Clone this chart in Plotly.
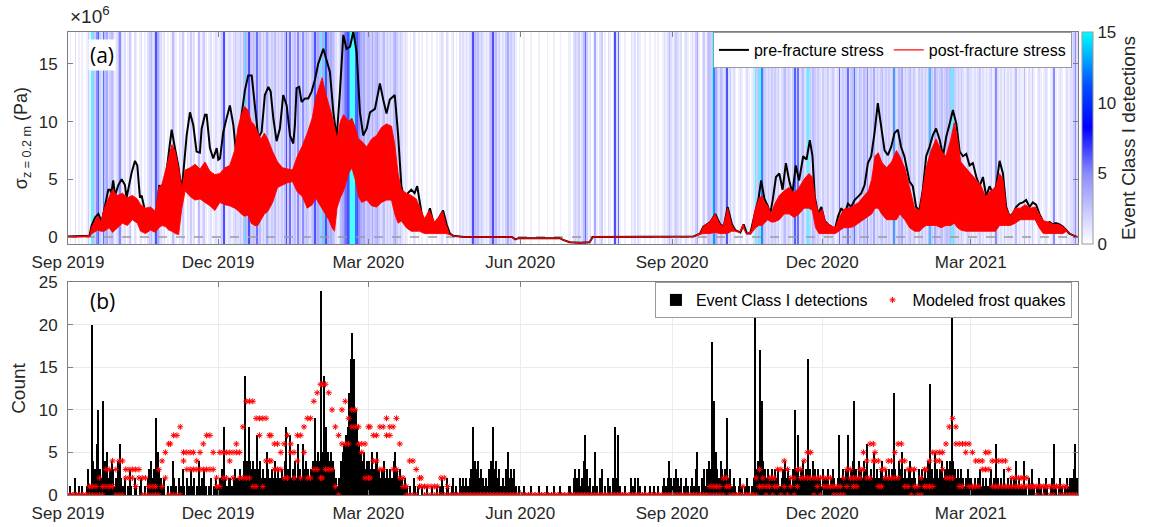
import plotly.graph_objects as go
import pandas as pd

# ---------------- data ----------------
month_starts = ["2019-09-01", "2019-10-01", "2019-11-01", "2019-12-01", "2020-01-01",
                "2020-02-01", "2020-03-01", "2020-04-01", "2020-05-01", "2020-06-01",
                "2020-07-01", "2020-08-01", "2020-09-01", "2020-10-01", "2020-11-01",
                "2020-12-01", "2021-01-01", "2021-02-01", "2021-03-01", "2021-04-01",
                "2021-05-01"]

# daily Event Class I detections, one list per month
det_2019_09 = [0,1,0,0,2,0,1,0,1,0, 0,1,3,1,20,4,3,6,10,3, 2,11,4,5,2,3,4,3,1,2]
det_2019_10 = [4,6,2,1,2,0,1,3,1,0, 2,1,0,1,2,0,1,0,2,3, 4,2,3,9,5,3,2,1,2,0, 1]
det_2019_11 = [0,1,4,2,1,0,2,1,3,1, 0,2,1,3,1,2,0,1,4,1, 2,3,1,0,1,2,0,1,2,1]
det_2019_12 = [1,2,3,8,2,1,2,2,1,2, 3,2,2,3,2,4,14,4,8,4, 3,4,3,7,3,4,2,3,2,5, 3]
det_2020_01 = [2,3,2,4,2,3,2,3,2,4, 8,3,7,2,3,4,2,6,3,2, 6,3,4,3,2,3,4,9,4,5, 4]
det_2020_02 = [24,5,14,8,5,4,5,4,3,2, 1,2,4,5,6,7,8,12,16,19, 16,10,8,6,5,4,5,3,4]
det_2020_03 = [4,3,5,3,4,5,3,2,3,4, 2,3,2,3,2,4,5,3,2,3, 2,1,2,1,0,1,0,2,1,0, 1]
det_2020_04 = [0,1,0,0,1,0,0,1,0,0, 1,0,1,2,1,0,2,1,0,1, 2,0,1,0,2,1,2,1,2,1]
det_2020_05 = [2,3,8,4,3,4,2,3,2,1, 2,1,3,4,8,3,4,2,3,1, 2,1,3,5,2,3,2,3,1,0, 1]
det_2020_06 = [0,0,1,0,0,0,1,0,0,0, 0,1,0,0,0,0,1,0,0,0, 1,0,0,0,1,0,0,0,0,1]
det_2020_07 = [1,0,2,3,2,3,1,2,4,7, 3,1,2,0,1,5,1,0,2,3, 0,1,0,2,1,0,2,8,2,7, 1]
det_2020_08 = [0,0,1,0,0,0,2,1,2,0, 2,1,0,0,1,0,0,1,0,0, 1,0,1,0,0,1,2,1,2,4, 2]
det_2020_09 = [1,2,3,2,1,2,0,1,2,1, 0,1,2,1,3,5,1,0,2,3, 1,3,4,3,18,11,5,3,2,4]
det_2020_10 = [3,2,3,9,2,3,1,2,1,0, 1,2,1,0,1,2,1,0,1,2, 21,3,4,17,11,4,3,2,3,2, 3]
det_2020_11 = [2,3,2,3,1,2,3,4,2,3, 2,1,3,10,3,7,2,3,4,2, 3,16,3,2,4,3,2,3,2,1]
det_2020_12 = [3,2,2,3,1,2,3,2,1,2, 7,2,3,2,3,7,2,3,4,11, 3,2,4,3,2,4,3,6,2,3, 2]
det_2021_01 = [5,2,3,2,3,4,2,3,2,3, 2,3,12,3,2,4,3,5,2,3, 2,3,4,2,3,2,1,3,2,3, 2]
det_2021_02 = [3,2,4,13,3,2,5,3,2,3, 4,2,3,4,3,4,21,4,3,2, 3,2,3,2,1,2,3,2]
det_2021_03 = [2,1,2,1,2,3,1,2,1,2, 1,2,3,1,2,6,2,1,2,1, 3,1,2,1,2,1,2,4,1,2, 1]
det_2021_04 = [1,4,1,0,2,1,3,1,0,1, 2,1,0,1,2,1,0,1,2,6, 1,0,1,2,1,0,1,2,1,2]
det_2021_05 = [2,3,6,2]

# modeled frost quakes, 2-day bins per month: upper and lower levels
mod_hi_2019_09 = [0,0,0,0,0,0,1,1,1,2,1,3,3,4,3]
mod_lo_2019_09 = [0,0,0,0,0,0,0,0,0,0,0,1,1,1,0]
mod_hi_2019_10 = [4,4,3,3,3,3,3,2,2,1,1,1,3,4,5,6]
mod_lo_2019_10 = [0,0,2,2,2,1,2,0,0,0,0,0,0,1,2,0]
mod_hi_2019_11 = [6,7,7,8,5,5,5,5,4,5,6,7,7,5,2]
mod_lo_2019_11 = [0,0,0,0,4,3,3,3,3,3,3,3,3,3,1]
mod_hi_2019_12 = [5,5,5,5,5,6,5,8,11,11,11,9,9,9,9,7]
mod_lo_2019_12 = [1,2,2,4,2,5,2,2,2,2,1,1,7,1,4,4]
mod_hi_2020_01 = [7,6,6,5,6,7,6,5,7,7,8,9,9,11,12,13]
mod_lo_2020_01 = [4,3,3,3,2,2,5,2,4,2,5,2,2,3,3,2]
mod_hi_2020_02 = [13,13,12,10,8,7,10,11,9,10,10,8,6,6,8]
mod_lo_2020_02 = [2,3,3,3,1,0,6,6,6,8,8,6,5,2,2]
mod_hi_2020_03 = [8,7,7,8,8,9,8,8,9,6,2,1,4,4,3,2]
mod_lo_2020_03 = [2,4,4,3,3,7,7,3,3,2,1,0,0,0,0,1]
mod_hi_2020_04 = [2,1,1,1,1,1,2,2,1,0,0,0,0,0,0]
mod_lo_2020_04 = [1,0,0,0,0,0,0,0,0,0,0,0,0,0,0]
mod_hi_2020_05 = [0,0,0,0,0,0,0,0,0,0,0,0,0,0,0,0]
mod_lo_2020_05 = [0,0,0,0,0,0,0,0,0,0,0,0,0,0,0,0]
mod_hi_2020_06 = [0,0,0,0,0,0,0,0,0,0,0,0,0,0,0]
mod_lo_2020_06 = [0,0,0,0,0,0,0,0,0,0,0,0,0,0,0]
mod_hi_2020_07 = [0,0,0,0,0,0,0,0,0,0,0,0,0,0,0,0]
mod_lo_2020_07 = [0,0,0,0,0,0,0,0,0,0,0,0,0,0,0,0]
mod_hi_2020_08 = [0,0,0,0,0,0,0,0,0,0,0,0,0,0,0,0]
mod_lo_2020_08 = [0,0,0,0,0,0,0,0,0,0,0,0,0,0,0,0]
mod_hi_2020_09 = [0,0,0,0,0,0,0,0,0,0,0,1,1,1,1]
mod_lo_2020_09 = [0,0,0,0,0,0,0,0,0,0,0,0,0,0,0]
mod_hi_2020_10 = [2,2,1,0,0,0,1,0,0,0,2,3,2,1,2,2]
mod_lo_2020_10 = [0,1,0,0,0,0,0,0,0,0,0,1,1,0,1,0]
mod_hi_2020_11 = [2,3,3,4,3,2,2,3,3,4,5,5,2,2,2]
mod_lo_2020_11 = [1,1,0,1,0,1,0,1,2,2,2,2,0,1,0]
mod_hi_2020_12 = [2,2,2,1,1,1,2,3,3,2,2,3,5,4,6,6]
mod_lo_2020_12 = [1,1,1,0,0,0,0,1,2,1,1,2,3,2,2,4]
mod_hi_2021_01 = [5,4,3,3,4,4,5,6,6,4,3,3,3,1,2,3]
mod_lo_2021_01 = [4,1,1,2,2,2,2,2,4,1,1,0,1,0,0,1]
mod_hi_2021_02 = [3,4,5,5,5,5,6,8,9,8,6,6,6,6]
mod_lo_2021_02 = [1,1,1,4,4,3,2,2,2,6,1,1,5,1]
mod_hi_2021_03 = [5,4,4,4,5,5,4,4,4,4,4,3,2,2,2,2]
mod_lo_2021_03 = [1,1,1,3,3,3,1,1,1,1,1,1,1,1,1,1]
mod_hi_2021_04 = [2,2,1,1,1,1,1,1,1,1,1,1,1,1,0]
mod_lo_2021_04 = [1,1,1,1,0,1,0,1,0,0,1,0,0,0,0]
mod_hi_2021_05 = [0,0]
mod_lo_2021_05 = [0,0]

# pre-fracture stress (x 1e6 Pa): (day since 2019-09-01, value)
pre_knots = [
    (0,0.05),(13,0.1),(14.3,1.0),(16.5,1.7),(18.4,2.0),(20.4,1.3),(22.4,2.7),(24.4,4.1),(25.4,4.1),
    (26.3,3.8),(27.4,4.9),(28.5,3.6),(30.5,4.5),(32.5,5.0),(34.5,4.5),(35.5,3.4),(38.6,5.6),(40.6,6.6),
    (42,6.2),(43.6,3.4),(44.6,3.6),(46.6,2.3),(48.7,2.2),(50.7,1.8),(52.7,1.8),(53.7,2.2),(55.3,4.5),
    (56.7,3.6),(58.7,4.5),(60.8,6.8),(62.8,9.3),(64.8,7.7),(66.8,6.2),(68.8,4.1),(69.8,5.4),(71.9,8.8),
    (73.9,10.8),(75.9,9.7),(77.9,7.4),(79.9,7.3),(81,9.4),(83,10.6),(84,10.6),(86,7.7),(88,6.8),
    (90.1,7.7),(91.1,6.7),(92.1,6.8),(94.1,9.1),(96.1,10.3),(98.1,11.4),(100.2,9.7),(102.2,6.8),
    (103.2,6.2),(105.2,10.6),(107.2,12.7),(109.2,14.0),(111.3,14.0),(113.3,11.4),(115.3,8.6),
    (117.3,9.1),(119.3,12.3),(121.4,13.0),(122.8,12.6),(124.4,10.3),(126.4,8.3),(128.4,9.4),
    (130.4,12.3),(132.5,11.4),(134.5,8.8),(136.5,8.1),(137.5,9.7),(138.5,12.9),(140.1,13.0),
    (141.5,11.7),(143.6,12.0),(145.6,12.0),(147.6,12.6),(149.6,13.6),(151.6,15.0),(154.7,16.3),
    (156.7,15.2),(158.7,14.3),(160.8,10.8),(162.8,8.6),(164.8,12.6),(166.8,17.5),(168.8,16.3),
    (170.9,16.5),(172.9,17.8),(174.9,16.0),(176.9,10.8),(178.9,8.8),(181,9.4),(183,10.8),(186,11.1),
    (189,13.3),(191,11.9),(193,10.7),(195,11.9),(197,12.2),(198,12.3),(200,8.9),(202,4.4),(204,3.2),
    (206,3.8),(208,4.1),(210,3.8),(211.6,4.4),(213,3.2),(215,1.4),(217,1.3),(219.3,2.5),(221.3,1.3),
    (223.3,1.0),(225.3,1.8),(227.3,2.3),(229.4,1.1),(231.4,0.3),(233.4,0.1),(240,0.0),(269,0.0),
    (271,-0.2),(273,-0.1),(298,-0.1),(300,-0.25),(304,-0.45),(310,-0.5),(316,-0.45),(318,0.0),
    (379,0.05),(383,0.3),(385,0.9),(389.2,1.3),(392.2,2.0),(395.2,1.1),(397.3,0.9),(399.7,2.6),
    (402.3,1.1),(404.3,0.6),(407.4,0.4),(409.4,1.1),(411.4,0.3),(413.4,0.3),(416.4,2.3),(418.5,3.4),
    (420,4.9),(422,3.3),(424,2.7),(425.5,2.0),(427,3.2),(429,5.2),(431,5.5),(433,4.1),(435,6.4),
    (437,4.9),(439,3.8),(441,6.2),(443,4.9),(445.5,7.0),(447.5,6.7),(449.5,8.4),(451.1,7.0),
    (452.5,3.5),(454.5,2.0),(456.5,2.6),(458.5,1.4),(460.5,1.1),(462.5,0.9),(464.6,0.6),(466.6,1.8),
    (468.6,2.5),(470.6,2.0),(472.6,2.9),(474.6,2.6),(476.6,3.2),(478.7,3.5),(480.7,3.8),(482.7,4.5),
    (484.7,6.4),(486.7,7.0),(488.7,9.0),(490.7,11.6),(492.8,9.5),(494.8,7.5),(496.8,7.1),(498.8,7.8),
    (500.8,9.0),(502.8,9.3),(504.8,7.8),(506.8,7.0),(509.9,4.8),(511.9,4.4),(513.9,2.6),(515.9,2.3),
    (518,4.1),(520,7.0),(522,7.8),(524,8.8),(526,9.4),(528.2,8.4),(530.2,7.0),(532.2,8.7),(534.2,9.8),
    (536.2,11.0),(538.3,9.8),(540.3,7.4),(542.3,7.0),(544.3,7.2),(546.3,6.2),(548.3,6.4),(550.4,5.2),
    (552.4,4.4),(554.4,5.2),(556.4,3.5),(558.4,4.4),(560.4,3.8),(562.4,4.4),(564.5,6.6),(566.5,5.5),
    (568.5,2.6),(570.5,1.8),(572.5,2.0),(574.5,2.6),(576.6,2.9),(578.6,3.0),(580.6,3.2),(582.6,2.6),
    (584.6,3.0),(586.6,2.8),(588.6,2.0),(590.7,1.4),(592.7,1.1),(594.7,1.3),(596.7,1.1),(598.7,1.2),
    (600.8,1.1),(602.8,0.9),(604.8,0.6),(606.8,0.3),(609.8,0.1),(611.5,0.0)]

# post-fracture stress envelope (x 1e6 Pa): (day, low, high)
post_knots = [
    (0,0.0,0.05),(13,0.0,0.1),(14.5,0.3,0.9),(18,0.6,1.8),(20,0.5,1.3),(22,0.5,2.5),(25,0.8,3.5),
    (27,0.4,4.1),(30,0.8,3.6),(33,1.2,3.8),(36,1.0,3.4),(39,1.5,3.6),(42,1.2,3.3),(44,0.5,2.8),
    (47,0.3,2.5),(50,0.6,2.6),(53,0.4,2.2),(55,0.8,4.3),(57,1.0,4.6),(59,0.9,5.8),(61,0.6,7.0),
    (63,0.5,8.0),(65,0.3,7.4),(67,0.2,6.0),(69,2.5,4.2),(71,4.0,5.8),(74,3.5,6.0),(77,3.2,6.3),
    (80,3.3,5.9),(83,3.0,6.5),(86,2.7,5.7),(89,2.3,5.4),(92,3.0,5.5),(95,2.8,6.0),(98,2.7,6.2),
    (101,2.5,7.5),(103,2.3,9.5),(105,2.0,10.6),(107,1.8,11.3),(109,1.9,11.0),(111,1.2,10.0),
    (113,1.0,9.7),(115,1.0,9.0),(117,1.5,8.5),(119,2.0,9.0),(121,2.2,8.5),(124,3.0,7.4),(127,4.3,6.5),
    (130,4.5,6.0),(133,4.7,5.9),(136,4.8,5.8),(139,3.9,7.0),(142,3.5,7.9),(145,2.5,9.0),(148,2.8,10.3),
    (150,3.4,12.0),(152,3.0,13.0),(154,2.5,13.8),(156,2.0,12.5),(158,1.5,11.5),(160,0.8,10.5),
    (161.5,0.5,9.5),(163,2.5,8.5),(165,3.4,10.0),(167,4.0,10.6),(170,5.5,10.0),(172,6.0,10.3),
    (174,5.0,9.5),(176,3.5,8.5),(178,3.0,8.3),(181,3.2,7.8),(184,2.7,8.5),(187,2.6,8.8),(190,3.0,9.5),
    (193,3.2,9.8),(196,3.2,9.6),(198,2.0,8.0),(200,1.2,5.5),(202,1.4,4.1),(205,0.8,3.8),(208,0.5,3.6),
    (211,0.5,3.3),(213,0.5,2.6),(216,0.3,1.6),(219,0.3,2.3),(222,0.3,1.3),(225,0.3,1.8),(227,0.3,2.2),
    (229,0.3,1.1),(231,0.2,0.3),(233.4,0.1,0.1),(240,0.0,0.0),(269,0.0,0.0),(271,-0.2,-0.2),
    (273,-0.1,-0.1),(298,-0.1,-0.1),(300,-0.25,-0.25),(304,-0.45,-0.45),(310,-0.5,-0.5),
    (316,-0.45,-0.45),(318,0.0,0.0),(379,0.05,0.05),(383,0.2,0.3),(385,0.3,0.9),(389,0.3,1.3),
    (392,0.4,2.0),(395,0.3,1.1),(397,0.3,0.9),(399.7,0.3,2.5),(402,0.5,1.1),(404,0.5,0.6),
    (407,0.4,0.4),(409,0.8,1.1),(411,0.3,0.3),(414,0.3,0.5),(416,0.7,2.2),(418.5,1.0,3.3),
    (420.5,1.0,3.6),(422,1.2,3.0),(424,1.5,2.7),(426,1.3,2.0),(428,1.3,2.8),(431,1.5,3.6),
    (434,2.0,4.0),(437,2.0,4.3),(440,1.7,3.8),(443,2.0,4.3),(446,2.5,5.0),(449,2.5,5.5),(451,2.3,5.2),
    (453,0.8,3.0),(455,0.3,2.0),(457,0.3,2.4),(459,0.3,1.3),(462,0.3,1.0),(465,0.3,0.8),(467,0.5,1.6),
    (470,0.8,2.4),(473,0.8,2.5),(476,0.9,2.7),(479,1.2,3.0),(482,1.5,3.5),(485,1.8,4.0),(487,2.0,5.0),
    (489,2.5,7.0),(491,2.5,7.3),(493,2.0,6.5),(496,1.5,6.0),(499,1.5,6.5),(502,1.5,7.5),(504,2.0,7.0),
    (507,1.5,6.0),(510,0.8,4.2),(513,0.5,2.5),(516,0.5,2.3),(518,0.8,4.0),(520,1.0,6.0),(523,1.0,7.5),
    (526,1.0,8.5),(529,0.8,7.5),(532,1.0,7.0),(535,1.0,8.5),(537,1.2,9.9),(539,0.8,8.5),(541,0.6,6.5),
    (544,0.5,6.0),(547,0.5,5.5),(550,0.5,5.0),(553,0.5,4.5),(556,0.5,3.5),(559,0.5,4.0),(562,0.5,4.3),
    (564.5,1.0,5.5),(566.5,1.0,5.0),(568.5,1.0,2.5),(571,1.0,1.8),(574,1.2,2.5),(577,1.5,2.5),
    (580,1.5,2.8),(583,1.5,2.5),(586,1.5,2.6),(588.5,0.8,2.0),(591,0.3,1.4),(594,0.3,1.3),
    (597,0.3,1.1),(600,0.3,1.1),(603,0.3,0.9),(605,0.5,0.6),(607,0.3,0.3),(609.8,0.1,0.1),
    (611.5,0.0,0.0)]

# ---------------- assemble ----------------
det_months = [det_2019_09, det_2019_10, det_2019_11, det_2019_12, det_2020_01, det_2020_02,
              det_2020_03, det_2020_04, det_2020_05, det_2020_06, det_2020_07, det_2020_08,
              det_2020_09, det_2020_10, det_2020_11, det_2020_12, det_2021_01, det_2021_02,
              det_2021_03, det_2021_04, det_2021_05]
mod_hi_months = [mod_hi_2019_09, mod_hi_2019_10, mod_hi_2019_11, mod_hi_2019_12, mod_hi_2020_01,
                 mod_hi_2020_02, mod_hi_2020_03, mod_hi_2020_04, mod_hi_2020_05, mod_hi_2020_06,
                 mod_hi_2020_07, mod_hi_2020_08, mod_hi_2020_09, mod_hi_2020_10, mod_hi_2020_11,
                 mod_hi_2020_12, mod_hi_2021_01, mod_hi_2021_02, mod_hi_2021_03, mod_hi_2021_04,
                 mod_hi_2021_05]
mod_lo_months = [mod_lo_2019_09, mod_lo_2019_10, mod_lo_2019_11, mod_lo_2019_12, mod_lo_2020_01,
                 mod_lo_2020_02, mod_lo_2020_03, mod_lo_2020_04, mod_lo_2020_05, mod_lo_2020_06,
                 mod_lo_2020_07, mod_lo_2020_08, mod_lo_2020_09, mod_lo_2020_10, mod_lo_2020_11,
                 mod_lo_2020_12, mod_lo_2021_01, mod_lo_2021_02, mod_lo_2021_03, mod_lo_2021_04,
                 mod_lo_2021_05]

DAY = pd.Timedelta(days=1)
t0 = pd.Timestamp("2019-09-01")
x_start, x_end = "2019-09-01", "2021-05-05"

det_x, det_y = [], []
for ms, vals in zip(month_starts, det_months):
    s = pd.Timestamp(ms)
    for j, v in enumerate(vals):
        det_x.append(s + (j + 0.5) * DAY)
        det_y.append(v)

mod_x, mod_y = [], []
for ms, hi, lo in zip(month_starts, mod_hi_months, mod_lo_months):
    s = pd.Timestamp(ms)
    for j, (a, b) in enumerate(zip(hi, lo)):
        xx = s + (2 * j + 1) * DAY
        mod_x += [xx, xx]
        mod_y += [a, b]

pre_x = [t0 + d * DAY for d, _ in pre_knots]
pre_y = [v for _, v in pre_knots]
post_x = [t0 + k[0] * DAY for k in post_knots]
post_lo = [k[1] for k in post_knots]
post_hi = [k[2] for k in post_knots]

FONT = "Liberation Sans, Arial, sans-serif"
AX = "#7f7f7f"
TXT = "#262626"

fig = go.Figure()

# background: detections as coloured stripes
fig.add_trace(go.Heatmap(
    x=det_x, y=[-0.61, 17.76], z=[det_y], zmin=0, zmax=15, zsmooth=False, opacity=0.72,
    colorscale=[[0, "#ffffff"], [0.33, "#8c8cff"], [0.55, "#0000ff"], [0.75, "#0050ff"],
                [1, "#00ffff"]],
    hoverinfo="skip", xaxis="x", yaxis="y", showlegend=False,
    colorbar=dict(x=1.004, xanchor="left", y=0.771, yanchor="middle", len=0.458,
                  lenmode="fraction", thickness=11, thicknessmode="pixels",
                  tickvals=[0, 5, 10, 15], ticks="", tickfont=dict(size=17, color=TXT),
                  outlinecolor="#9a9a9a", outlinewidth=1, xpad=0, ypad=0,
                  title=dict(text="Event Class I detections", side="right",
                             font=dict(size=19, color=TXT)))))

fig.add_trace(go.Scatter(x=[x_start, x_end], y=[0, 0], mode="lines",
                         line=dict(color="#9a9a9a", width=1.5, dash="dash"),
                         hoverinfo="skip", showlegend=False, xaxis="x", yaxis="y"))

fig.add_trace(go.Scatter(x=pre_x, y=pre_y, mode="lines", name="pre-fracture stress",
                         line=dict(color="black", width=2), xaxis="x", yaxis="y",
                         legend="legend"))

fig.add_trace(go.Scatter(x=post_x + post_x[::-1], y=post_hi + post_lo[::-1], mode="lines",
                         fill="toself", fillcolor="#ff0000", line=dict(color="#ff0000", width=0.9),
                         showlegend=False, hoverinfo="skip", xaxis="x", yaxis="y"))
fig.add_trace(go.Scatter(x=[None], y=[None], mode="lines", name="post-fracture stress",
                         line=dict(color="#ff0000", width=1.2), xaxis="x", yaxis="y",
                         legend="legend"))

# bottom panel
fig.add_trace(go.Bar(x=det_x, y=det_y, width=86400000 * 0.85, name="Event Class I detections",
                     marker=dict(color="black", line=dict(width=0)), xaxis="x2", yaxis="y2",
                     legend="legend2"))
fig.add_trace(go.Scatter(x=mod_x, y=mod_y, mode="markers", name="Modeled frost quakes",
                         marker=dict(symbol="asterisk-open", size=5, color="#ff0000",
                                     line=dict(color="#ff0000", width=1)),
                         xaxis="x2", yaxis="y2", legend="legend2"))

xcommon = dict(type="date", range=[x_start, x_end], tickformat="%b %Y", dtick="M3",
               tick0="2019-09-01", ticks="inside", ticklen=5, tickcolor=AX, showline=True,
               linecolor=AX, linewidth=1, mirror="ticks", zeroline=False, automargin=False,
               ticklabelstandoff=3, tickfont=dict(size=17, color=TXT))

fig.update_layout(
    width=1150, height=527, margin=dict(l=68, r=72, t=32, b=32, autoexpand=False),
    paper_bgcolor="white", plot_bgcolor="white",
    font=dict(family=FONT, size=17, color=TXT),
    bargap=0, hovermode=False,
    xaxis=dict(domain=[0, 1], anchor="y", showgrid=False, **xcommon),
    yaxis=dict(domain=[0.542, 1], anchor="x", range=[-0.61, 17.76], tickvals=[0, 5, 10, 15],
               ticks="inside", ticklen=5, tickcolor=AX, showline=True, linecolor=AX,
               mirror="ticks", showgrid=False, zeroline=False, ticklabelstandoff=6,
               automargin=False, tickfont=dict(size=17, color=TXT),
               title=dict(text="σ<sub>z = 0.2 m</sub> (Pa)", font=dict(size=18, color=TXT),
                          standoff=6)),
    xaxis2=dict(domain=[0, 1], anchor="y2", showgrid=True, gridcolor="#ebebeb", **xcommon),
    yaxis2=dict(domain=[0, 0.46], anchor="x2", range=[0, 25], dtick=5, ticks="inside",
                ticklen=5, tickcolor=AX, showline=True, linecolor=AX, mirror="ticks",
                showgrid=True, gridcolor="#ebebeb", zeroline=False, ticklabelstandoff=6,
                automargin=False, tickfont=dict(size=17, color=TXT),
                title=dict(text="Count", font=dict(size=19, color=TXT), standoff=8)),
    legend=dict(x=0.994, xanchor="right", y=1.0, yanchor="top", orientation="h",
                bgcolor="white", bordercolor="#9a9a9a", borderwidth=1,
                font=dict(size=16, color="black"), itemwidth=30, tracegroupgap=0),
    legend2=dict(x=0.994, xanchor="right", y=0.46, yanchor="top", orientation="h",
                 bgcolor="white", bordercolor="#9a9a9a", borderwidth=1,
                 font=dict(size=16, color="black"), itemwidth=30, tracegroupgap=0),
    annotations=[
        dict(text="(a)", x=0.02, y=0.95, xref="paper", yref="paper", xanchor="left",
             yanchor="middle", showarrow=False, bgcolor="white",
             font=dict(family="Open Sans, sans-serif", size=21, color="black")),
        dict(text="(b)", x=0.02, y=0.419, xref="paper", yref="paper", xanchor="left",
             yanchor="middle", showarrow=False, bgcolor="white",
             font=dict(family="Open Sans, sans-serif", size=21, color="black")),
        dict(text="×10<sup>6</sup>", x=0.0, y=1.0, xref="paper", yref="paper",
             xanchor="left", yanchor="bottom", yshift=3, showarrow=False,
             font=dict(size=19, color=TXT)),
    ],
)

fig.write_html("out.html", config={"displayModeBar": False},
               post_script="document.body.style.margin='0px';")
